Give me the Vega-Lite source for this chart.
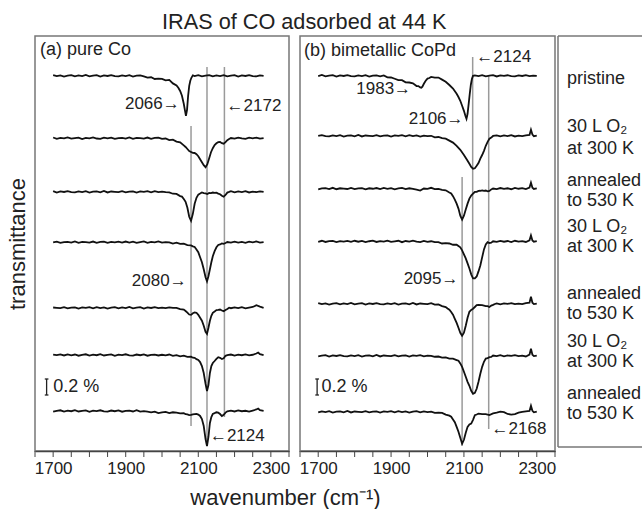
{
"$schema": "https://vega.github.io/schema/vega-lite/v6.json",
"padding": {"left": 5, "top": 11, "right": 0, "bottom": 0},
"config": {"font": "Liberation Sans", "view": {"stroke": "#777", "strokeWidth": 1.5}, "text": {"color": "#222"}},
"title": {"text": "IRAS of CO adsorbed at 44 K", "anchor": "start", "frame": "group", "dx": 127, "font": "Liberation Sans", "fontSize": 21.7, "fontWeight": "normal", "color": "#222", "offset": 2},
"datasets": {
"ticks": [{"w":1650},{"w":1700},{"w":1750},{"w":1800},{"w":1850},{"w":1900},{"w":1950},{"w":2000},{"w":2050},{"w":2100},{"w":2150},{"w":2200},{"w":2250},{"w":2300},{"w":2350}],
"a": [
{"s":1,"w":1700,"t":4.698},{"s":1,"w":1710,"t":4.686},{"s":1,"w":1720,"t":4.696},{"s":1,"w":1730,"t":4.681},{"s":1,"w":1740,"t":4.692},{"s":1,"w":1750,"t":4.699},{"s":1,"w":1760,"t":4.683},{"s":1,"w":1770,"t":4.694},{"s":1,"w":1780,"t":4.687},{"s":1,"w":1790,"t":4.7},{"s":1,"w":1800,"t":4.684},{"s":1,"w":1810,"t":4.691},{"s":1,"w":1820,"t":4.698},{"s":1,"w":1830,"t":4.68},{"s":1,"w":1840,"t":4.695},{"s":1,"w":1850,"t":4.688},{"s":1,"w":1860,"t":4.699},{"s":1,"w":1870,"t":4.686},{"s":1,"w":1880,"t":4.682},{"s":1,"w":1890,"t":4.696},{"s":1,"w":1900,"t":4.687},{"s":1,"w":1910,"t":4.697},{"s":1,"w":1920,"t":4.681},{"s":1,"w":1930,"t":4.692},{"s":1,"w":1940,"t":4.695},{"s":1,"w":1950,"t":4.684},{"s":1,"w":1960,"t":4.668},{"s":1,"w":1970,"t":4.672},{"s":1,"w":1980,"t":4.65},{"s":1,"w":1990,"t":4.655},{"s":1,"w":2000,"t":4.651},{"s":1,"w":2010,"t":4.634},{"s":1,"w":2020,"t":4.638},{"s":1,"w":2030,"t":4.595},{"s":1,"w":2040,"t":4.569},{"s":1,"w":2045,"t":4.54},{"s":1,"w":2050,"t":4.5},{"s":1,"w":2055,"t":4.44},{"s":1,"w":2060,"t":4.34},{"s":1,"w":2063,"t":4.265},{"s":1,"w":2066,"t":4.19},{"s":1,"w":2069,"t":4.265},{"s":1,"w":2072,"t":4.44},{"s":1,"w":2075,"t":4.565},{"s":1,"w":2078,"t":4.628},{"s":1,"w":2081,"t":4.665},{"s":1,"w":2085,"t":4.695},{"s":1,"w":2090,"t":4.686},{"s":1,"w":2100,"t":4.697},{"s":1,"w":2110,"t":4.684},{"s":1,"w":2120,"t":4.692},{"s":1,"w":2130,"t":4.699},{"s":1,"w":2140,"t":4.683},{"s":1,"w":2150,"t":4.694},{"s":1,"w":2160,"t":4.687},{"s":1,"w":2170,"t":4.699},{"s":1,"w":2180,"t":4.684},{"s":1,"w":2190,"t":4.691},{"s":1,"w":2200,"t":4.698},{"s":1,"w":2210,"t":4.68},{"s":1,"w":2220,"t":4.695},{"s":1,"w":2230,"t":4.688},{"s":1,"w":2240,"t":4.699},{"s":1,"w":2250,"t":4.686},{"s":1,"w":2260,"t":4.682},{"s":1,"w":2270,"t":4.696},{"s":1,"w":2280,"t":4.69},
{"s":2,"w":1700,"t":3.919},{"s":2,"w":1710,"t":3.903},{"s":2,"w":1720,"t":3.914},{"s":2,"w":1730,"t":3.907},{"s":2,"w":1740,"t":3.92},{"s":2,"w":1750,"t":3.904},{"s":2,"w":1760,"t":3.911},{"s":2,"w":1770,"t":3.918},{"s":2,"w":1780,"t":3.9},{"s":2,"w":1790,"t":3.915},{"s":2,"w":1800,"t":3.908},{"s":2,"w":1810,"t":3.919},{"s":2,"w":1820,"t":3.906},{"s":2,"w":1830,"t":3.902},{"s":2,"w":1840,"t":3.916},{"s":2,"w":1850,"t":3.907},{"s":2,"w":1860,"t":3.917},{"s":2,"w":1870,"t":3.901},{"s":2,"w":1880,"t":3.912},{"s":2,"w":1890,"t":3.915},{"s":2,"w":1900,"t":3.904},{"s":2,"w":1910,"t":3.92},{"s":2,"w":1920,"t":3.902},{"s":2,"w":1930,"t":3.914},{"s":2,"w":1940,"t":3.91},{"s":2,"w":1950,"t":3.905},{"s":2,"w":1960,"t":3.918},{"s":2,"w":1970,"t":3.903},{"s":2,"w":1980,"t":3.913},{"s":2,"w":1990,"t":3.916},{"s":2,"w":2000,"t":3.901},{"s":2,"w":2010,"t":3.906},{"s":2,"w":2020,"t":3.886},{"s":2,"w":2030,"t":3.891},{"s":2,"w":2040,"t":3.868},{"s":2,"w":2050,"t":3.859},{"s":2,"w":2060,"t":3.82},{"s":2,"w":2065,"t":3.8},{"s":2,"w":2070,"t":3.775},{"s":2,"w":2075,"t":3.75},{"s":2,"w":2080,"t":3.738},{"s":2,"w":2085,"t":3.726},{"s":2,"w":2090,"t":3.725},{"s":2,"w":2095,"t":3.71},{"s":2,"w":2100,"t":3.685},{"s":2,"w":2105,"t":3.648},{"s":2,"w":2110,"t":3.61},{"s":2,"w":2115,"t":3.572},{"s":2,"w":2120,"t":3.548},{"s":2,"w":2125,"t":3.585},{"s":2,"w":2130,"t":3.66},{"s":2,"w":2135,"t":3.735},{"s":2,"w":2140,"t":3.785},{"s":2,"w":2145,"t":3.824},{"s":2,"w":2150,"t":3.846},{"s":2,"w":2155,"t":3.86},{"s":2,"w":2160,"t":3.862},{"s":2,"w":2165,"t":3.848},{"s":2,"w":2170,"t":3.841},{"s":2,"w":2175,"t":3.86},{"s":2,"w":2180,"t":3.885},{"s":2,"w":2185,"t":3.899},{"s":2,"w":2190,"t":3.912},{"s":2,"w":2200,"t":3.904},{"s":2,"w":2210,"t":3.917},{"s":2,"w":2220,"t":3.907},{"s":2,"w":2230,"t":3.902},{"s":2,"w":2240,"t":3.916},{"s":2,"w":2250,"t":3.908},{"s":2,"w":2260,"t":3.918},{"s":2,"w":2270,"t":3.904},{"s":2,"w":2280,"t":3.911},
{"s":3,"w":1700,"t":3.248},{"s":3,"w":1710,"t":3.23},{"s":3,"w":1720,"t":3.245},{"s":3,"w":1730,"t":3.238},{"s":3,"w":1740,"t":3.249},{"s":3,"w":1750,"t":3.236},{"s":3,"w":1760,"t":3.232},{"s":3,"w":1770,"t":3.246},{"s":3,"w":1780,"t":3.237},{"s":3,"w":1790,"t":3.247},{"s":3,"w":1800,"t":3.231},{"s":3,"w":1810,"t":3.242},{"s":3,"w":1820,"t":3.245},{"s":3,"w":1830,"t":3.234},{"s":3,"w":1840,"t":3.25},{"s":3,"w":1850,"t":3.232},{"s":3,"w":1860,"t":3.244},{"s":3,"w":1870,"t":3.24},{"s":3,"w":1880,"t":3.235},{"s":3,"w":1890,"t":3.248},{"s":3,"w":1900,"t":3.233},{"s":3,"w":1910,"t":3.243},{"s":3,"w":1920,"t":3.246},{"s":3,"w":1930,"t":3.231},{"s":3,"w":1940,"t":3.244},{"s":3,"w":1950,"t":3.238},{"s":3,"w":1960,"t":3.247},{"s":3,"w":1970,"t":3.234},{"s":3,"w":1980,"t":3.248},{"s":3,"w":1990,"t":3.236},{"s":3,"w":2000,"t":3.242},{"s":3,"w":2010,"t":3.235},{"s":3,"w":2020,"t":3.233},{"s":3,"w":2030,"t":3.216},{"s":3,"w":2040,"t":3.213},{"s":3,"w":2050,"t":3.186},{"s":3,"w":2055,"t":3.18},{"s":3,"w":2060,"t":3.15},{"s":3,"w":2065,"t":3.115},{"s":3,"w":2070,"t":3.04},{"s":3,"w":2075,"t":2.928},{"s":3,"w":2080,"t":2.878},{"s":3,"w":2085,"t":2.965},{"s":3,"w":2090,"t":3.09},{"s":3,"w":2095,"t":3.165},{"s":3,"w":2100,"t":3.205},{"s":3,"w":2105,"t":3.218},{"s":3,"w":2110,"t":3.232},{"s":3,"w":2115,"t":3.224},{"s":3,"w":2120,"t":3.221},{"s":3,"w":2125,"t":3.212},{"s":3,"w":2130,"t":3.225},{"s":3,"w":2135,"t":3.224},{"s":3,"w":2140,"t":3.231},{"s":3,"w":2145,"t":3.226},{"s":3,"w":2150,"t":3.23},{"s":3,"w":2155,"t":3.218},{"s":3,"w":2160,"t":3.209},{"s":3,"w":2165,"t":3.19},{"s":3,"w":2170,"t":3.178},{"s":3,"w":2175,"t":3.2},{"s":3,"w":2180,"t":3.23},{"s":3,"w":2185,"t":3.238},{"s":3,"w":2190,"t":3.247},{"s":3,"w":2200,"t":3.233},{"s":3,"w":2210,"t":3.244},{"s":3,"w":2220,"t":3.237},{"s":3,"w":2230,"t":3.249},{"s":3,"w":2240,"t":3.232},{"s":3,"w":2250,"t":3.243},{"s":3,"w":2260,"t":3.236},{"s":3,"w":2270,"t":3.246},{"s":3,"w":2280,"t":3.238},
{"s":4,"w":1700,"t":2.607},{"s":4,"w":1710,"t":2.617},{"s":4,"w":1720,"t":2.601},{"s":4,"w":1730,"t":2.612},{"s":4,"w":1740,"t":2.615},{"s":4,"w":1750,"t":2.604},{"s":4,"w":1760,"t":2.62},{"s":4,"w":1770,"t":2.602},{"s":4,"w":1780,"t":2.614},{"s":4,"w":1790,"t":2.61},{"s":4,"w":1800,"t":2.605},{"s":4,"w":1810,"t":2.618},{"s":4,"w":1820,"t":2.603},{"s":4,"w":1830,"t":2.613},{"s":4,"w":1840,"t":2.616},{"s":4,"w":1850,"t":2.601},{"s":4,"w":1860,"t":2.614},{"s":4,"w":1870,"t":2.608},{"s":4,"w":1880,"t":2.617},{"s":4,"w":1890,"t":2.604},{"s":4,"w":1900,"t":2.618},{"s":4,"w":1910,"t":2.606},{"s":4,"w":1920,"t":2.616},{"s":4,"w":1930,"t":2.601},{"s":4,"w":1940,"t":2.612},{"s":4,"w":1950,"t":2.619},{"s":4,"w":1960,"t":2.603},{"s":4,"w":1970,"t":2.614},{"s":4,"w":1980,"t":2.607},{"s":4,"w":1990,"t":2.62},{"s":4,"w":2000,"t":2.604},{"s":4,"w":2010,"t":2.611},{"s":4,"w":2020,"t":2.609},{"s":4,"w":2030,"t":2.593},{"s":4,"w":2040,"t":2.604},{"s":4,"w":2050,"t":2.588},{"s":4,"w":2060,"t":2.591},{"s":4,"w":2070,"t":2.574},{"s":4,"w":2080,"t":2.569},{"s":4,"w":2085,"t":2.558},{"s":4,"w":2090,"t":2.55},{"s":4,"w":2095,"t":2.52},{"s":4,"w":2100,"t":2.485},{"s":4,"w":2105,"t":2.422},{"s":4,"w":2110,"t":2.36},{"s":4,"w":2115,"t":2.272},{"s":4,"w":2120,"t":2.172},{"s":4,"w":2124,"t":2.122},{"s":4,"w":2128,"t":2.185},{"s":4,"w":2132,"t":2.272},{"s":4,"w":2136,"t":2.36},{"s":4,"w":2140,"t":2.435},{"s":4,"w":2145,"t":2.498},{"s":4,"w":2150,"t":2.546},{"s":4,"w":2155,"t":2.575},{"s":4,"w":2160,"t":2.582},{"s":4,"w":2165,"t":2.594},{"s":4,"w":2170,"t":2.589},{"s":4,"w":2175,"t":2.6},{"s":4,"w":2180,"t":2.612},{"s":4,"w":2190,"t":2.604},{"s":4,"w":2200,"t":2.617},{"s":4,"w":2210,"t":2.606},{"s":4,"w":2220,"t":2.613},{"s":4,"w":2230,"t":2.602},{"s":4,"w":2240,"t":2.616},{"s":4,"w":2250,"t":2.608},{"s":4,"w":2260,"t":2.619},{"s":4,"w":2270,"t":2.605},{"s":4,"w":2280,"t":2.611},
{"s":5,"w":1700,"t":1.794},{"s":5,"w":1710,"t":1.79},{"s":5,"w":1720,"t":1.785},{"s":5,"w":1730,"t":1.798},{"s":5,"w":1740,"t":1.783},{"s":5,"w":1750,"t":1.793},{"s":5,"w":1760,"t":1.796},{"s":5,"w":1770,"t":1.781},{"s":5,"w":1780,"t":1.794},{"s":5,"w":1790,"t":1.788},{"s":5,"w":1800,"t":1.797},{"s":5,"w":1810,"t":1.784},{"s":5,"w":1820,"t":1.798},{"s":5,"w":1830,"t":1.786},{"s":5,"w":1840,"t":1.796},{"s":5,"w":1850,"t":1.781},{"s":5,"w":1860,"t":1.792},{"s":5,"w":1870,"t":1.799},{"s":5,"w":1880,"t":1.783},{"s":5,"w":1890,"t":1.794},{"s":5,"w":1900,"t":1.787},{"s":5,"w":1910,"t":1.8},{"s":5,"w":1920,"t":1.784},{"s":5,"w":1930,"t":1.791},{"s":5,"w":1940,"t":1.798},{"s":5,"w":1950,"t":1.78},{"s":5,"w":1960,"t":1.795},{"s":5,"w":1970,"t":1.788},{"s":5,"w":1980,"t":1.799},{"s":5,"w":1990,"t":1.786},{"s":5,"w":2000,"t":1.792},{"s":5,"w":2010,"t":1.785},{"s":5,"w":2020,"t":1.796},{"s":5,"w":2030,"t":1.788},{"s":5,"w":2040,"t":1.79},{"s":5,"w":2050,"t":1.774},{"s":5,"w":2060,"t":1.768},{"s":5,"w":2065,"t":1.75},{"s":5,"w":2070,"t":1.73},{"s":5,"w":2075,"t":1.706},{"s":5,"w":2080,"t":1.702},{"s":5,"w":2085,"t":1.722},{"s":5,"w":2090,"t":1.732},{"s":5,"w":2095,"t":1.728},{"s":5,"w":2100,"t":1.702},{"s":5,"w":2105,"t":1.665},{"s":5,"w":2110,"t":1.628},{"s":5,"w":2115,"t":1.565},{"s":5,"w":2120,"t":1.49},{"s":5,"w":2124,"t":1.465},{"s":5,"w":2128,"t":1.54},{"s":5,"w":2132,"t":1.628},{"s":5,"w":2136,"t":1.69},{"s":5,"w":2140,"t":1.728},{"s":5,"w":2145,"t":1.744},{"s":5,"w":2150,"t":1.761},{"s":5,"w":2155,"t":1.763},{"s":5,"w":2160,"t":1.768},{"s":5,"w":2165,"t":1.757},{"s":5,"w":2170,"t":1.746},{"s":5,"w":2175,"t":1.762},{"s":5,"w":2180,"t":1.776},{"s":5,"w":2185,"t":1.792},{"s":5,"w":2190,"t":1.785},{"s":5,"w":2200,"t":1.796},{"s":5,"w":2210,"t":1.787},{"s":5,"w":2220,"t":1.798},{"s":5,"w":2230,"t":1.784},{"s":5,"w":2240,"t":1.793},{"s":5,"w":2250,"t":1.8},{"s":5,"w":2260,"t":1.822},{"s":5,"w":2270,"t":1.805},{"s":5,"w":2280,"t":1.79},
{"s":6,"w":1700,"t":1.204},{"s":6,"w":1710,"t":1.198},{"s":6,"w":1720,"t":1.207},{"s":6,"w":1730,"t":1.194},{"s":6,"w":1740,"t":1.208},{"s":6,"w":1750,"t":1.196},{"s":6,"w":1760,"t":1.206},{"s":6,"w":1770,"t":1.191},{"s":6,"w":1780,"t":1.202},{"s":6,"w":1790,"t":1.209},{"s":6,"w":1800,"t":1.193},{"s":6,"w":1810,"t":1.204},{"s":6,"w":1820,"t":1.197},{"s":6,"w":1830,"t":1.21},{"s":6,"w":1840,"t":1.194},{"s":6,"w":1850,"t":1.201},{"s":6,"w":1860,"t":1.208},{"s":6,"w":1870,"t":1.19},{"s":6,"w":1880,"t":1.205},{"s":6,"w":1890,"t":1.198},{"s":6,"w":1900,"t":1.209},{"s":6,"w":1910,"t":1.196},{"s":6,"w":1920,"t":1.192},{"s":6,"w":1930,"t":1.206},{"s":6,"w":1940,"t":1.197},{"s":6,"w":1950,"t":1.207},{"s":6,"w":1960,"t":1.191},{"s":6,"w":1970,"t":1.202},{"s":6,"w":1980,"t":1.205},{"s":6,"w":1990,"t":1.194},{"s":6,"w":2000,"t":1.203},{"s":6,"w":2010,"t":1.196},{"s":6,"w":2020,"t":1.206},{"s":6,"w":2030,"t":1.19},{"s":6,"w":2040,"t":1.199},{"s":6,"w":2050,"t":1.184},{"s":6,"w":2060,"t":1.192},{"s":6,"w":2070,"t":1.177},{"s":6,"w":2080,"t":1.178},{"s":6,"w":2085,"t":1.166},{"s":6,"w":2090,"t":1.164},{"s":6,"w":2095,"t":1.148},{"s":6,"w":2100,"t":1.138},{"s":6,"w":2105,"t":1.112},{"s":6,"w":2110,"t":1.062},{"s":6,"w":2115,"t":0.975},{"s":6,"w":2120,"t":0.838},{"s":6,"w":2124,"t":0.75},{"s":6,"w":2128,"t":0.825},{"s":6,"w":2132,"t":0.975},{"s":6,"w":2136,"t":1.062},{"s":6,"w":2140,"t":1.1},{"s":6,"w":2145,"t":1.125},{"s":6,"w":2150,"t":1.152},{"s":6,"w":2155,"t":1.172},{"s":6,"w":2160,"t":1.165},{"s":6,"w":2165,"t":1.15},{"s":6,"w":2170,"t":1.16},{"s":6,"w":2175,"t":1.19},{"s":6,"w":2180,"t":1.198},{"s":6,"w":2190,"t":1.206},{"s":6,"w":2200,"t":1.193},{"s":6,"w":2210,"t":1.204},{"s":6,"w":2220,"t":1.197},{"s":6,"w":2230,"t":1.208},{"s":6,"w":2240,"t":1.195},{"s":6,"w":2250,"t":1.203},{"s":6,"w":2260,"t":1.219},{"s":6,"w":2265,"t":1.231},{"s":6,"w":2270,"t":1.21},{"s":6,"w":2280,"t":1.198},
{"s":7,"w":1700,"t":0.491},{"s":7,"w":1710,"t":0.502},{"s":7,"w":1720,"t":0.509},{"s":7,"w":1730,"t":0.493},{"s":7,"w":1740,"t":0.504},{"s":7,"w":1750,"t":0.497},{"s":7,"w":1760,"t":0.51},{"s":7,"w":1770,"t":0.494},{"s":7,"w":1780,"t":0.501},{"s":7,"w":1790,"t":0.508},{"s":7,"w":1800,"t":0.49},{"s":7,"w":1810,"t":0.505},{"s":7,"w":1820,"t":0.498},{"s":7,"w":1830,"t":0.509},{"s":7,"w":1840,"t":0.496},{"s":7,"w":1850,"t":0.492},{"s":7,"w":1860,"t":0.506},{"s":7,"w":1870,"t":0.497},{"s":7,"w":1880,"t":0.507},{"s":7,"w":1890,"t":0.491},{"s":7,"w":1900,"t":0.502},{"s":7,"w":1910,"t":0.505},{"s":7,"w":1920,"t":0.494},{"s":7,"w":1930,"t":0.51},{"s":7,"w":1940,"t":0.492},{"s":7,"w":1950,"t":0.498},{"s":7,"w":1960,"t":0.491},{"s":7,"w":1970,"t":0.483},{"s":7,"w":1980,"t":0.492},{"s":7,"w":1990,"t":0.474},{"s":7,"w":2000,"t":0.483},{"s":7,"w":2010,"t":0.488},{"s":7,"w":2020,"t":0.473},{"s":7,"w":2030,"t":0.484},{"s":7,"w":2040,"t":0.48},{"s":7,"w":2050,"t":0.47},{"s":7,"w":2060,"t":0.472},{"s":7,"w":2065,"t":0.46},{"s":7,"w":2070,"t":0.458},{"s":7,"w":2075,"t":0.448},{"s":7,"w":2080,"t":0.451},{"s":7,"w":2085,"t":0.457},{"s":7,"w":2090,"t":0.461},{"s":7,"w":2095,"t":0.464},{"s":7,"w":2100,"t":0.455},{"s":7,"w":2105,"t":0.438},{"s":7,"w":2110,"t":0.4},{"s":7,"w":2115,"t":0.312},{"s":7,"w":2120,"t":0.15},{"s":7,"w":2124,"t":0.062},{"s":7,"w":2128,"t":0.175},{"s":7,"w":2132,"t":0.35},{"s":7,"w":2136,"t":0.425},{"s":7,"w":2140,"t":0.464},{"s":7,"w":2145,"t":0.473},{"s":7,"w":2150,"t":0.484},{"s":7,"w":2155,"t":0.479},{"s":7,"w":2160,"t":0.462},{"s":7,"w":2165,"t":0.437},{"s":7,"w":2170,"t":0.452},{"s":7,"w":2175,"t":0.48},{"s":7,"w":2180,"t":0.496},{"s":7,"w":2190,"t":0.505},{"s":7,"w":2200,"t":0.494},{"s":7,"w":2210,"t":0.508},{"s":7,"w":2220,"t":0.497},{"s":7,"w":2230,"t":0.503},{"s":7,"w":2240,"t":0.492},{"s":7,"w":2250,"t":0.506},{"s":7,"w":2260,"t":0.519},{"s":7,"w":2265,"t":0.531},{"s":7,"w":2270,"t":0.51},{"s":7,"w":2280,"t":0.502}
],
"b": [
{"s":1,"w":1700,"t":4.687},{"s":1,"w":1710,"t":4.7},{"s":1,"w":1720,"t":4.684},{"s":1,"w":1730,"t":4.691},{"s":1,"w":1740,"t":4.698},{"s":1,"w":1750,"t":4.68},{"s":1,"w":1760,"t":4.695},{"s":1,"w":1770,"t":4.688},{"s":1,"w":1780,"t":4.699},{"s":1,"w":1790,"t":4.686},{"s":1,"w":1800,"t":4.682},{"s":1,"w":1810,"t":4.696},{"s":1,"w":1820,"t":4.687},{"s":1,"w":1830,"t":4.697},{"s":1,"w":1840,"t":4.681},{"s":1,"w":1850,"t":4.692},{"s":1,"w":1860,"t":4.695},{"s":1,"w":1870,"t":4.684},{"s":1,"w":1880,"t":4.694},{"s":1,"w":1890,"t":4.67},{"s":1,"w":1900,"t":4.669},{"s":1,"w":1910,"t":4.653},{"s":1,"w":1920,"t":4.635},{"s":1,"w":1930,"t":4.636},{"s":1,"w":1940,"t":4.608},{"s":1,"w":1950,"t":4.606},{"s":1,"w":1960,"t":4.596},{"s":1,"w":1970,"t":4.562},{"s":1,"w":1975,"t":4.562},{"s":1,"w":1980,"t":4.544},{"s":1,"w":1983,"t":4.54},{"s":1,"w":1986,"t":4.553},{"s":1,"w":1990,"t":4.59},{"s":1,"w":1995,"t":4.628},{"s":1,"w":2000,"t":4.655},{"s":1,"w":2005,"t":4.662},{"s":1,"w":2010,"t":4.676},{"s":1,"w":2020,"t":4.666},{"s":1,"w":2030,"t":4.668},{"s":1,"w":2040,"t":4.642},{"s":1,"w":2050,"t":4.616},{"s":1,"w":2060,"t":4.575},{"s":1,"w":2070,"t":4.53},{"s":1,"w":2080,"t":4.465},{"s":1,"w":2085,"t":4.425},{"s":1,"w":2090,"t":4.378},{"s":1,"w":2095,"t":4.315},{"s":1,"w":2100,"t":4.252},{"s":1,"w":2104,"t":4.19},{"s":1,"w":2107,"t":4.152},{"s":1,"w":2110,"t":4.215},{"s":1,"w":2113,"t":4.34},{"s":1,"w":2116,"t":4.465},{"s":1,"w":2119,"t":4.578},{"s":1,"w":2122,"t":4.652},{"s":1,"w":2125,"t":4.69},{"s":1,"w":2130,"t":4.696},{"s":1,"w":2140,"t":4.687},{"s":1,"w":2150,"t":4.699},{"s":1,"w":2160,"t":4.684},{"s":1,"w":2170,"t":4.693},{"s":1,"w":2180,"t":4.698},{"s":1,"w":2190,"t":4.682},{"s":1,"w":2200,"t":4.694},{"s":1,"w":2210,"t":4.689},{"s":1,"w":2220,"t":4.697},{"s":1,"w":2230,"t":4.685},{"s":1,"w":2240,"t":4.683},{"s":1,"w":2250,"t":4.696},{"s":1,"w":2260,"t":4.688},{"s":1,"w":2270,"t":4.698},{"s":1,"w":2280,"t":4.686},{"s":1,"w":2290,"t":4.693},{"s":1,"w":2300,"t":4.69},
{"s":2,"w":1700,"t":3.938},{"s":2,"w":1710,"t":3.949},{"s":2,"w":1720,"t":3.936},{"s":2,"w":1730,"t":3.932},{"s":2,"w":1740,"t":3.946},{"s":2,"w":1750,"t":3.937},{"s":2,"w":1760,"t":3.947},{"s":2,"w":1770,"t":3.931},{"s":2,"w":1780,"t":3.942},{"s":2,"w":1790,"t":3.945},{"s":2,"w":1800,"t":3.934},{"s":2,"w":1810,"t":3.95},{"s":2,"w":1820,"t":3.932},{"s":2,"w":1830,"t":3.944},{"s":2,"w":1840,"t":3.94},{"s":2,"w":1850,"t":3.935},{"s":2,"w":1860,"t":3.948},{"s":2,"w":1870,"t":3.933},{"s":2,"w":1880,"t":3.943},{"s":2,"w":1890,"t":3.946},{"s":2,"w":1900,"t":3.931},{"s":2,"w":1910,"t":3.944},{"s":2,"w":1920,"t":3.938},{"s":2,"w":1930,"t":3.947},{"s":2,"w":1940,"t":3.934},{"s":2,"w":1950,"t":3.948},{"s":2,"w":1960,"t":3.936},{"s":2,"w":1970,"t":3.946},{"s":2,"w":1980,"t":3.931},{"s":2,"w":1990,"t":3.942},{"s":2,"w":2000,"t":3.937},{"s":2,"w":2010,"t":3.94},{"s":2,"w":2020,"t":3.92},{"s":2,"w":2030,"t":3.925},{"s":2,"w":2040,"t":3.91},{"s":2,"w":2050,"t":3.905},{"s":2,"w":2060,"t":3.88},{"s":2,"w":2070,"t":3.855},{"s":2,"w":2080,"t":3.815},{"s":2,"w":2090,"t":3.765},{"s":2,"w":2100,"t":3.7},{"s":2,"w":2110,"t":3.628},{"s":2,"w":2115,"t":3.59},{"s":2,"w":2120,"t":3.55},{"s":2,"w":2125,"t":3.528},{"s":2,"w":2130,"t":3.534},{"s":2,"w":2135,"t":3.565},{"s":2,"w":2140,"t":3.6},{"s":2,"w":2145,"t":3.654},{"s":2,"w":2150,"t":3.7},{"s":2,"w":2155,"t":3.752},{"s":2,"w":2160,"t":3.815},{"s":2,"w":2165,"t":3.865},{"s":2,"w":2170,"t":3.903},{"s":2,"w":2175,"t":3.918},{"s":2,"w":2180,"t":3.938},{"s":2,"w":2190,"t":3.946},{"s":2,"w":2200,"t":3.933},{"s":2,"w":2210,"t":3.944},{"s":2,"w":2220,"t":3.937},{"s":2,"w":2230,"t":3.949},{"s":2,"w":2240,"t":3.932},{"s":2,"w":2250,"t":3.943},{"s":2,"w":2260,"t":3.936},{"s":2,"w":2270,"t":3.946},{"s":2,"w":2280,"t":3.95},{"s":2,"w":2284,"t":4.015},{"s":2,"w":2288,"t":3.955},{"s":2,"w":2292,"t":3.935},{"s":2,"w":2300,"t":3.942},
{"s":3,"w":1700,"t":3.271},{"s":3,"w":1710,"t":3.282},{"s":3,"w":1720,"t":3.285},{"s":3,"w":1730,"t":3.274},{"s":3,"w":1740,"t":3.29},{"s":3,"w":1750,"t":3.272},{"s":3,"w":1760,"t":3.284},{"s":3,"w":1770,"t":3.28},{"s":3,"w":1780,"t":3.275},{"s":3,"w":1790,"t":3.288},{"s":3,"w":1800,"t":3.273},{"s":3,"w":1810,"t":3.283},{"s":3,"w":1820,"t":3.286},{"s":3,"w":1830,"t":3.271},{"s":3,"w":1840,"t":3.284},{"s":3,"w":1850,"t":3.278},{"s":3,"w":1860,"t":3.287},{"s":3,"w":1870,"t":3.274},{"s":3,"w":1880,"t":3.288},{"s":3,"w":1890,"t":3.276},{"s":3,"w":1900,"t":3.286},{"s":3,"w":1910,"t":3.271},{"s":3,"w":1920,"t":3.282},{"s":3,"w":1930,"t":3.289},{"s":3,"w":1940,"t":3.273},{"s":3,"w":1950,"t":3.284},{"s":3,"w":1960,"t":3.277},{"s":3,"w":1970,"t":3.268},{"s":3,"w":1980,"t":3.255},{"s":3,"w":1990,"t":3.281},{"s":3,"w":2000,"t":3.277},{"s":3,"w":2010,"t":3.29},{"s":3,"w":2020,"t":3.274},{"s":3,"w":2030,"t":3.275},{"s":3,"w":2040,"t":3.264},{"s":3,"w":2050,"t":3.259},{"s":3,"w":2060,"t":3.232},{"s":3,"w":2065,"t":3.22},{"s":3,"w":2070,"t":3.185},{"s":3,"w":2075,"t":3.142},{"s":3,"w":2080,"t":3.092},{"s":3,"w":2085,"t":3.03},{"s":3,"w":2090,"t":2.942},{"s":3,"w":2095,"t":2.892},{"s":3,"w":2100,"t":2.942},{"s":3,"w":2105,"t":3.018},{"s":3,"w":2110,"t":3.092},{"s":3,"w":2115,"t":3.155},{"s":3,"w":2120,"t":3.192},{"s":3,"w":2125,"t":3.218},{"s":3,"w":2130,"t":3.238},{"s":3,"w":2135,"t":3.24},{"s":3,"w":2140,"t":3.252},{"s":3,"w":2145,"t":3.253},{"s":3,"w":2150,"t":3.258},{"s":3,"w":2155,"t":3.251},{"s":3,"w":2160,"t":3.256},{"s":3,"w":2165,"t":3.246},{"s":3,"w":2170,"t":3.252},{"s":3,"w":2175,"t":3.27},{"s":3,"w":2180,"t":3.281},{"s":3,"w":2190,"t":3.274},{"s":3,"w":2200,"t":3.287},{"s":3,"w":2210,"t":3.276},{"s":3,"w":2220,"t":3.284},{"s":3,"w":2230,"t":3.272},{"s":3,"w":2240,"t":3.289},{"s":3,"w":2250,"t":3.278},{"s":3,"w":2260,"t":3.285},{"s":3,"w":2270,"t":3.273},{"s":3,"w":2280,"t":3.293},{"s":3,"w":2284,"t":3.355},{"s":3,"w":2288,"t":3.292},{"s":3,"w":2292,"t":3.276},{"s":3,"w":2300,"t":3.283},
{"s":4,"w":1700,"t":2.615},{"s":4,"w":1710,"t":2.628},{"s":4,"w":1720,"t":2.613},{"s":4,"w":1730,"t":2.623},{"s":4,"w":1740,"t":2.626},{"s":4,"w":1750,"t":2.611},{"s":4,"w":1760,"t":2.624},{"s":4,"w":1770,"t":2.618},{"s":4,"w":1780,"t":2.627},{"s":4,"w":1790,"t":2.614},{"s":4,"w":1800,"t":2.628},{"s":4,"w":1810,"t":2.616},{"s":4,"w":1820,"t":2.626},{"s":4,"w":1830,"t":2.611},{"s":4,"w":1840,"t":2.622},{"s":4,"w":1850,"t":2.629},{"s":4,"w":1860,"t":2.613},{"s":4,"w":1870,"t":2.624},{"s":4,"w":1880,"t":2.617},{"s":4,"w":1890,"t":2.63},{"s":4,"w":1900,"t":2.614},{"s":4,"w":1910,"t":2.621},{"s":4,"w":1920,"t":2.628},{"s":4,"w":1930,"t":2.61},{"s":4,"w":1940,"t":2.625},{"s":4,"w":1950,"t":2.618},{"s":4,"w":1960,"t":2.629},{"s":4,"w":1970,"t":2.616},{"s":4,"w":1980,"t":2.612},{"s":4,"w":1990,"t":2.626},{"s":4,"w":2000,"t":2.614},{"s":4,"w":2010,"t":2.622},{"s":4,"w":2020,"t":2.61},{"s":4,"w":2030,"t":2.612},{"s":4,"w":2040,"t":2.594},{"s":4,"w":2050,"t":2.598},{"s":4,"w":2060,"t":2.594},{"s":4,"w":2070,"t":2.578},{"s":4,"w":2080,"t":2.579},{"s":4,"w":2085,"t":2.562},{"s":4,"w":2090,"t":2.545},{"s":4,"w":2095,"t":2.508},{"s":4,"w":2100,"t":2.458},{"s":4,"w":2105,"t":2.408},{"s":4,"w":2110,"t":2.345},{"s":4,"w":2115,"t":2.282},{"s":4,"w":2120,"t":2.208},{"s":4,"w":2125,"t":2.158},{"s":4,"w":2130,"t":2.158},{"s":4,"w":2135,"t":2.182},{"s":4,"w":2140,"t":2.245},{"s":4,"w":2145,"t":2.32},{"s":4,"w":2150,"t":2.42},{"s":4,"w":2155,"t":2.52},{"s":4,"w":2160,"t":2.582},{"s":4,"w":2165,"t":2.61},{"s":4,"w":2170,"t":2.6},{"s":4,"w":2175,"t":2.605},{"s":4,"w":2180,"t":2.622},{"s":4,"w":2190,"t":2.614},{"s":4,"w":2200,"t":2.627},{"s":4,"w":2210,"t":2.616},{"s":4,"w":2220,"t":2.625},{"s":4,"w":2230,"t":2.612},{"s":4,"w":2240,"t":2.628},{"s":4,"w":2250,"t":2.617},{"s":4,"w":2260,"t":2.624},{"s":4,"w":2270,"t":2.613},{"s":4,"w":2280,"t":2.634},{"s":4,"w":2284,"t":2.695},{"s":4,"w":2288,"t":2.632},{"s":4,"w":2292,"t":2.616},{"s":4,"w":2300,"t":2.623},
{"s":5,"w":1700,"t":1.848},{"s":5,"w":1710,"t":1.836},{"s":5,"w":1720,"t":1.846},{"s":5,"w":1730,"t":1.831},{"s":5,"w":1740,"t":1.842},{"s":5,"w":1750,"t":1.849},{"s":5,"w":1760,"t":1.833},{"s":5,"w":1770,"t":1.844},{"s":5,"w":1780,"t":1.837},{"s":5,"w":1790,"t":1.85},{"s":5,"w":1800,"t":1.834},{"s":5,"w":1810,"t":1.841},{"s":5,"w":1820,"t":1.848},{"s":5,"w":1830,"t":1.83},{"s":5,"w":1840,"t":1.845},{"s":5,"w":1850,"t":1.838},{"s":5,"w":1860,"t":1.849},{"s":5,"w":1870,"t":1.836},{"s":5,"w":1880,"t":1.832},{"s":5,"w":1890,"t":1.846},{"s":5,"w":1900,"t":1.837},{"s":5,"w":1910,"t":1.847},{"s":5,"w":1920,"t":1.831},{"s":5,"w":1930,"t":1.842},{"s":5,"w":1940,"t":1.845},{"s":5,"w":1950,"t":1.834},{"s":5,"w":1960,"t":1.85},{"s":5,"w":1970,"t":1.832},{"s":5,"w":1980,"t":1.844},{"s":5,"w":1990,"t":1.84},{"s":5,"w":2000,"t":1.835},{"s":5,"w":2010,"t":1.848},{"s":5,"w":2020,"t":1.829},{"s":5,"w":2030,"t":1.832},{"s":5,"w":2040,"t":1.812},{"s":5,"w":2050,"t":1.799},{"s":5,"w":2055,"t":1.782},{"s":5,"w":2060,"t":1.766},{"s":5,"w":2065,"t":1.738},{"s":5,"w":2070,"t":1.704},{"s":5,"w":2075,"t":1.652},{"s":5,"w":2080,"t":1.602},{"s":5,"w":2085,"t":1.54},{"s":5,"w":2090,"t":1.478},{"s":5,"w":2095,"t":1.44},{"s":5,"w":2100,"t":1.478},{"s":5,"w":2105,"t":1.565},{"s":5,"w":2110,"t":1.665},{"s":5,"w":2115,"t":1.74},{"s":5,"w":2120,"t":1.763},{"s":5,"w":2125,"t":1.778},{"s":5,"w":2130,"t":1.8},{"s":5,"w":2135,"t":1.823},{"s":5,"w":2140,"t":1.826},{"s":5,"w":2150,"t":1.823},{"s":5,"w":2160,"t":1.812},{"s":5,"w":2165,"t":1.81},{"s":5,"w":2170,"t":1.8},{"s":5,"w":2175,"t":1.817},{"s":5,"w":2180,"t":1.826},{"s":5,"w":2185,"t":1.838},{"s":5,"w":2190,"t":1.846},{"s":5,"w":2200,"t":1.833},{"s":5,"w":2210,"t":1.844},{"s":5,"w":2220,"t":1.838},{"s":5,"w":2230,"t":1.849},{"s":5,"w":2240,"t":1.835},{"s":5,"w":2250,"t":1.843},{"s":5,"w":2260,"t":1.837},{"s":5,"w":2270,"t":1.848},{"s":5,"w":2280,"t":1.853},{"s":5,"w":2284,"t":1.928},{"s":5,"w":2288,"t":1.853},{"s":5,"w":2292,"t":1.836},{"s":5,"w":2300,"t":1.842},
{"s":6,"w":1700,"t":1.184},{"s":6,"w":1710,"t":1.191},{"s":6,"w":1720,"t":1.198},{"s":6,"w":1730,"t":1.18},{"s":6,"w":1740,"t":1.195},{"s":6,"w":1750,"t":1.188},{"s":6,"w":1760,"t":1.199},{"s":6,"w":1770,"t":1.186},{"s":6,"w":1780,"t":1.182},{"s":6,"w":1790,"t":1.196},{"s":6,"w":1800,"t":1.187},{"s":6,"w":1810,"t":1.197},{"s":6,"w":1820,"t":1.181},{"s":6,"w":1830,"t":1.192},{"s":6,"w":1840,"t":1.195},{"s":6,"w":1850,"t":1.184},{"s":6,"w":1860,"t":1.2},{"s":6,"w":1870,"t":1.182},{"s":6,"w":1880,"t":1.194},{"s":6,"w":1890,"t":1.19},{"s":6,"w":1900,"t":1.185},{"s":6,"w":1910,"t":1.198},{"s":6,"w":1920,"t":1.183},{"s":6,"w":1930,"t":1.193},{"s":6,"w":1940,"t":1.196},{"s":6,"w":1950,"t":1.181},{"s":6,"w":1960,"t":1.194},{"s":6,"w":1970,"t":1.188},{"s":6,"w":1980,"t":1.197},{"s":6,"w":1990,"t":1.184},{"s":6,"w":2000,"t":1.192},{"s":6,"w":2010,"t":1.19},{"s":6,"w":2020,"t":1.178},{"s":6,"w":2030,"t":1.181},{"s":6,"w":2040,"t":1.168},{"s":6,"w":2050,"t":1.171},{"s":6,"w":2060,"t":1.155},{"s":6,"w":2070,"t":1.154},{"s":6,"w":2080,"t":1.137},{"s":6,"w":2085,"t":1.128},{"s":6,"w":2090,"t":1.095},{"s":6,"w":2095,"t":1.052},{"s":6,"w":2100,"t":0.99},{"s":6,"w":2105,"t":0.928},{"s":6,"w":2110,"t":0.865},{"s":6,"w":2115,"t":0.815},{"s":6,"w":2120,"t":0.752},{"s":6,"w":2125,"t":0.715},{"s":6,"w":2130,"t":0.728},{"s":6,"w":2135,"t":0.778},{"s":6,"w":2140,"t":0.865},{"s":6,"w":2145,"t":0.965},{"s":6,"w":2150,"t":1.052},{"s":6,"w":2155,"t":1.115},{"s":6,"w":2160,"t":1.155},{"s":6,"w":2165,"t":1.162},{"s":6,"w":2170,"t":1.174},{"s":6,"w":2175,"t":1.176},{"s":6,"w":2180,"t":1.193},{"s":6,"w":2190,"t":1.186},{"s":6,"w":2200,"t":1.197},{"s":6,"w":2210,"t":1.183},{"s":6,"w":2220,"t":1.194},{"s":6,"w":2230,"t":1.188},{"s":6,"w":2240,"t":1.198},{"s":6,"w":2250,"t":1.185},{"s":6,"w":2260,"t":1.192},{"s":6,"w":2270,"t":1.182},{"s":6,"w":2280,"t":1.204},{"s":6,"w":2284,"t":1.278},{"s":6,"w":2288,"t":1.203},{"s":6,"w":2292,"t":1.186},{"s":6,"w":2300,"t":1.193},
{"s":7,"w":1700,"t":0.482},{"s":7,"w":1710,"t":0.496},{"s":7,"w":1720,"t":0.487},{"s":7,"w":1730,"t":0.497},{"s":7,"w":1740,"t":0.481},{"s":7,"w":1750,"t":0.492},{"s":7,"w":1760,"t":0.495},{"s":7,"w":1770,"t":0.484},{"s":7,"w":1780,"t":0.5},{"s":7,"w":1790,"t":0.482},{"s":7,"w":1800,"t":0.494},{"s":7,"w":1810,"t":0.49},{"s":7,"w":1820,"t":0.485},{"s":7,"w":1830,"t":0.498},{"s":7,"w":1840,"t":0.483},{"s":7,"w":1850,"t":0.493},{"s":7,"w":1860,"t":0.496},{"s":7,"w":1870,"t":0.481},{"s":7,"w":1880,"t":0.494},{"s":7,"w":1890,"t":0.488},{"s":7,"w":1900,"t":0.497},{"s":7,"w":1910,"t":0.484},{"s":7,"w":1920,"t":0.498},{"s":7,"w":1930,"t":0.486},{"s":7,"w":1940,"t":0.496},{"s":7,"w":1950,"t":0.481},{"s":7,"w":1960,"t":0.492},{"s":7,"w":1970,"t":0.499},{"s":7,"w":1980,"t":0.483},{"s":7,"w":1990,"t":0.494},{"s":7,"w":2000,"t":0.487},{"s":7,"w":2010,"t":0.492},{"s":7,"w":2020,"t":0.477},{"s":7,"w":2030,"t":0.48},{"s":7,"w":2040,"t":0.476},{"s":7,"w":2050,"t":0.455},{"s":7,"w":2060,"t":0.442},{"s":7,"w":2065,"t":0.428},{"s":7,"w":2070,"t":0.395},{"s":7,"w":2075,"t":0.36},{"s":7,"w":2080,"t":0.302},{"s":7,"w":2085,"t":0.24},{"s":7,"w":2090,"t":0.165},{"s":7,"w":2095,"t":0.09},{"s":7,"w":2100,"t":0.14},{"s":7,"w":2105,"t":0.228},{"s":7,"w":2110,"t":0.302},{"s":7,"w":2115,"t":0.332},{"s":7,"w":2120,"t":0.342},{"s":7,"w":2125,"t":0.39},{"s":7,"w":2130,"t":0.448},{"s":7,"w":2135,"t":0.456},{"s":7,"w":2140,"t":0.468},{"s":7,"w":2150,"t":0.461},{"s":7,"w":2160,"t":0.462},{"s":7,"w":2170,"t":0.45},{"s":7,"w":2180,"t":0.47},{"s":7,"w":2190,"t":0.48},{"s":7,"w":2200,"t":0.493},{"s":7,"w":2210,"t":0.486},{"s":7,"w":2220,"t":0.463},{"s":7,"w":2230,"t":0.456},{"s":7,"w":2240,"t":0.461},{"s":7,"w":2250,"t":0.479},{"s":7,"w":2260,"t":0.488},{"s":7,"w":2270,"t":0.496},{"s":7,"w":2280,"t":0.5},{"s":7,"w":2284,"t":0.565},{"s":7,"w":2288,"t":0.502},{"s":7,"w":2292,"t":0.483},{"s":7,"w":2300,"t":0.492}
]
},
"spacing": 11,
"bounds": "flush",
"hconcat": [
{
 "width": 254, "height": 415,
 "layer": [
  {"data": {"values": [{"w":2080,"t1":4.0625,"t2":0.3125},{"w":2124,"t1":4.8,"t2":0.0625},{"w":2172,"t1":4.8,"t2":0.425}]},
   "mark": {"type": "rule", "stroke": "#9a9a9a", "strokeWidth": 1.5},
   "encoding": {
    "x": {"field": "w", "type": "quantitative", "scale": {"domain": [1650, 2350], "nice": false, "zero": false},
      "axis": {"values": [1700, 1900, 2100, 2300], "format": "d", "ticks": false, "domainColor": "#444", "domainWidth": 1.5, "grid": false, "labelFontSize": 17, "labelColor": "#222", "labelPadding": 9, "labelFlush": false, "labelOverlap": false, "title": "wavenumber (cm⁻¹)", "titleFontSize": 22, "titleFontWeight": "normal", "titleColor": "#222", "titleX": 250, "titleY": 53, "titleBaseline": "alphabetic", "titleAlign": "center"}},
    "y": {"field": "t1", "type": "quantitative", "scale": {"domain": [0, 5.1875], "nice": false, "zero": false},
      "axis": {"title": "transmittance", "domain": false, "ticks": false, "labels": false, "grid": false, "titleFontSize": 22, "titleFontWeight": "normal", "titleColor": "#222", "titlePadding": 6}},
    "y2": {"field": "t2"}}},
  {"data": {"name": "ticks"}, "mark": {"type": "rule", "stroke": "#444", "strokeWidth": 1},
   "encoding": {"x": {"field": "w", "type": "quantitative"}, "y": {"datum": 0}, "y2": {"datum": -0.075}}},
  {"data": {"name": "a"}, "mark": {"type": "line", "stroke": "#111", "strokeWidth": 1.8},
   "encoding": {"x": {"field": "w", "type": "quantitative"}, "y": {"field": "t", "type": "quantitative"}, "detail": {"field": "s"}}},
  {"data": {"values": [{"w":1682,"w2":1682,"t":0.7,"t2":0.9},{"w":1677,"w2":1687,"t":0.9,"t2":0.9},{"w":1677,"w2":1687,"t":0.7,"t2":0.7}]},
   "mark": {"type": "rule", "stroke": "#222", "strokeWidth": 1.3},
   "encoding": {"x": {"field": "w", "type": "quantitative"}, "x2": {"field": "w2"}, "y": {"field": "t", "type": "quantitative"}, "y2": {"field": "t2"}}},
  {"data": {"values": [{"w":2049,"t":4.3375,"label":"2066→"},{"w":2068,"t":2.125,"label":"2080→"}]},
   "mark": {"type": "text", "align": "right", "baseline": "middle", "fontSize": 17},
   "encoding": {"x": {"field": "w", "type": "quantitative"}, "y": {"field": "t", "type": "quantitative"}, "text": {"field": "label"}}},
  {"data": {"values": [{"w":2178,"t":4.3125,"label":"←2172"},{"w":2132,"t":0.1875,"label":"←2124"}]},
   "mark": {"type": "text", "align": "left", "baseline": "middle", "fontSize": 17},
   "encoding": {"x": {"field": "w", "type": "quantitative"}, "y": {"field": "t", "type": "quantitative"}, "text": {"field": "label"}}},
  {"data": {"values": [{"w":1664,"t":5.0125,"label":"(a) pure Co"},{"w":1700,"t":0.8,"label":"0.2 %"}]},
   "mark": {"type": "text", "align": "left", "baseline": "middle", "fontSize": 18},
   "encoding": {"x": {"field": "w", "type": "quantitative"}, "y": {"field": "t", "type": "quantitative"}, "text": {"field": "label"}}}
 ]
},
{
 "spacing": 3,
 "bounds": "flush",
 "hconcat": [
 {
  "width": 255, "height": 415,
  "layer": [
   {"data": {"values": [{"w":2095,"t1":3.425,"t2":0.07},{"w":2124,"t1":4.925,"t2":0.71},{"w":2168,"t1":4.7,"t2":0.275}]},
    "mark": {"type": "rule", "stroke": "#9a9a9a", "strokeWidth": 1.5},
    "encoding": {
     "x": {"field": "w", "type": "quantitative", "scale": {"domain": [1650, 2350], "nice": false, "zero": false},
       "axis": {"values": [1700, 1900, 2100, 2300], "format": "d", "ticks": false, "domainColor": "#444", "domainWidth": 1.5, "grid": false, "labelFontSize": 17, "labelColor": "#222", "labelPadding": 9, "labelFlush": false, "labelOverlap": false, "title": null}},
     "y": {"field": "t1", "type": "quantitative", "scale": {"domain": [0, 5.1875], "nice": false, "zero": false}, "axis": null},
     "y2": {"field": "t2"}}},
   {"data": {"name": "ticks"}, "mark": {"type": "rule", "stroke": "#444", "strokeWidth": 1},
    "encoding": {"x": {"field": "w", "type": "quantitative"}, "y": {"datum": 0}, "y2": {"datum": -0.075}}},
   {"data": {"name": "b"}, "mark": {"type": "line", "stroke": "#111", "strokeWidth": 1.8},
    "encoding": {"x": {"field": "w", "type": "quantitative"}, "y": {"field": "t", "type": "quantitative"}, "detail": {"field": "s"}}},
   {"data": {"values": [{"w":1697,"w2":1697,"t":0.7,"t2":0.9},{"w":1692,"w2":1702,"t":0.9,"t2":0.9},{"w":1692,"w2":1702,"t":0.7,"t2":0.7}]},
    "mark": {"type": "rule", "stroke": "#222", "strokeWidth": 1.3},
    "encoding": {"x": {"field": "w", "type": "quantitative"}, "x2": {"field": "w2"}, "y": {"field": "t", "type": "quantitative"}, "y2": {"field": "t2"}}},
   {"data": {"values": [{"w":1955,"t":4.525,"label":"1983→"},{"w":2099,"t":4.15,"label":"2106→"},{"w":2085,"t":2.15,"label":"2095→"}]},
    "mark": {"type": "text", "align": "right", "baseline": "middle", "fontSize": 17},
    "encoding": {"x": {"field": "w", "type": "quantitative"}, "y": {"field": "t", "type": "quantitative"}, "text": {"field": "label"}}},
   {"data": {"values": [{"w":2134,"t":4.925,"label":"←2124"},{"w":2176,"t":0.275,"label":"←2168"}]},
    "mark": {"type": "text", "align": "left", "baseline": "middle", "fontSize": 17},
    "encoding": {"x": {"field": "w", "type": "quantitative"}, "y": {"field": "t", "type": "quantitative"}, "text": {"field": "label"}}},
   {"data": {"values": [{"w":1661,"t":5.0,"label":"(b) bimetallic CoPd"},{"w":1709,"t":0.8,"label":"0.2 %"}]},
    "mark": {"type": "text", "align": "left", "baseline": "middle", "fontSize": 18},
    "encoding": {"x": {"field": "w", "type": "quantitative"}, "y": {"field": "t", "type": "quantitative"}, "text": {"field": "label"}}}
  ]
 },
 {
  "width": 84, "height": 411,
  "view": {"stroke": null},
  "layer": [
   {"data": {"values": [{"x":0,"x2":0,"t":0.05,"t2":5.1875},{"x":0,"x2":84,"t":5.1875,"t2":5.1875},{"x":0,"x2":84,"t":0.05,"t2":0.05}]},
    "mark": {"type": "rule", "stroke": "#777", "strokeWidth": 1.5},
    "encoding": {"x": {"field": "x", "type": "quantitative", "scale": {"domain": [0, 84], "nice": false, "zero": false}, "axis": null}, "x2": {"field": "x2"}, "y": {"field": "t", "type": "quantitative", "scale": {"domain": [0.05, 5.1875], "nice": false, "zero": false}, "axis": null}, "y2": {"field": "t2"}}},
   {"data": {"values": [{"x":9,"t":4.65,"label":"pristine"},{"x":9,"t":4.05,"label":"30 L O₂"},{"x":9,"t":3.775,"label":"at 300 K"},{"x":9,"t":3.375,"label":"annealed"},{"x":9,"t":3.125,"label":"to 530 K"},{"x":9,"t":2.8,"label":"30 L O₂"},{"x":9,"t":2.55,"label":"at 300 K"},{"x":9,"t":1.9625,"label":"annealed"},{"x":9,"t":1.7125,"label":"to 530 K"},{"x":9,"t":1.3625,"label":"30 L O₂"},{"x":9,"t":1.1125,"label":"at 300 K"},{"x":9,"t":0.7125,"label":"annealed"},{"x":9,"t":0.4625,"label":"to 530 K"}]},
    "mark": {"type": "text", "align": "left", "baseline": "middle", "fontSize": 18},
    "encoding": {"x": {"field": "x", "type": "quantitative"}, "y": {"field": "t", "type": "quantitative"}, "text": {"field": "label"}}}
  ]
 }
 ]
}
]
}
